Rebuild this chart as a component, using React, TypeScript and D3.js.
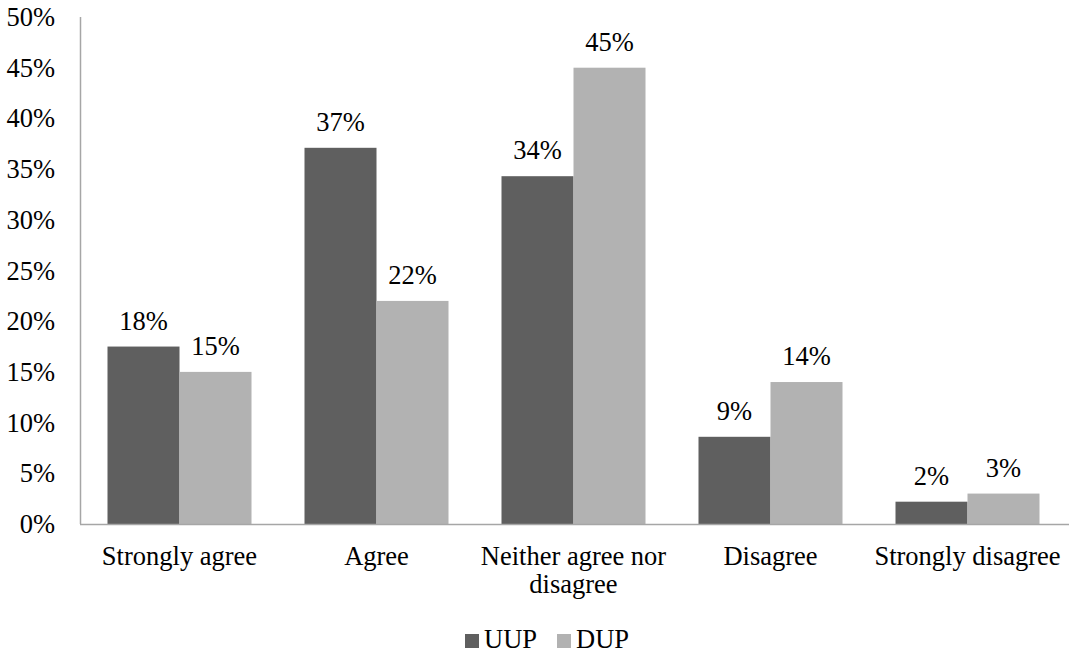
import React from 'react';
import * as d3 from 'd3';

const categories = ['Strongly agree', 'Agree', 'Neither agree nor disagree', 'Disagree', 'Strongly disagree'];
const seriesNames = ['UUP', 'DUP'];
const uupValues = [17.5, 37.1, 34.3, 8.6, 2.2];
const dupValues = [15, 22, 45, 14, 3];
const yTicks = [0, 5, 10, 15, 20, 25, 30, 35, 40, 45, 50];
const colors = ['#5f5f5f', '#b2b2b2'];

const W = 1069;
const H = 655;
const FONT = 'Liberation Serif';
const FS = 26.5;

const left = 81;
const right = 1066;
const top = 17;
const bottom = 524;

// break long labels into lines of at most maxChars characters
const wrapLabel = (s, maxChars) => {
  if (s.length <= maxChars + 1) return [s];
  const lines = [];
  let cur = '';
  s.split(' ').forEach(w => {
    const next = cur ? cur + ' ' + w : w;
    if (next.length > maxChars && cur) {
      lines.push(cur);
      cur = w;
    } else {
      cur = next;
    }
  });
  if (cur) lines.push(cur);
  return lines;
};

const App = () => {
  const y = d3.scaleLinear().domain([0, 50]).range([bottom, top]);
  const x0 = d3.scaleBand()
    .domain(categories)
    .range([left, right])
    .paddingInner(0.269)
    .paddingOuter(0.1345);
  const x1 = d3.scaleBand().domain(seriesNames).range([0, x0.bandwidth()]);
  const series = [uupValues, dupValues];
  const legX = [465, 557];

  return (
    <svg width={W} height={H}
      style={{ position: 'absolute', left: 0, top: 0, background: '#fff' }}>
      {/* bars + value labels */}
      {categories.map((c, i) => (
        <g key={c}>
          {seriesNames.map((s, j) => {
            const v = series[j][i];
            const bx = x0(c) + x1(s);
            return (
              <g key={s}>
                <rect x={bx} y={y(v)} width={x1.bandwidth()} height={y(0) - y(v)} fill={colors[j]} />
                <text x={bx + x1.bandwidth() / 2} y={y(v) - 17} textAnchor="middle"
                  fontFamily={FONT} fontSize={FS} fill="#000">{Math.round(v) + '%'}</text>
              </g>
            );
          })}
        </g>
      ))}

      {/* axis lines */}
      <line x1={left - 0.5} x2={left - 0.5} y1={top} y2={bottom} stroke="#a6a6a6" strokeWidth={1.5} />
      <line x1={left - 1} x2={W} y1={bottom + 0.5} y2={bottom + 0.5} stroke="#a6a6a6" strokeWidth={1.5} />

      {/* y tick labels */}
      {yTicks.map(d => (
        <text key={d} x={55} y={y(d) + 9} textAnchor="end"
          fontFamily={FONT} fontSize={FS} fill="#000">{d + '%'}</text>
      ))}

      {/* category labels */}
      {categories.map(c => {
        const cx = x0(c) + x0.bandwidth() / 2;
        return (
          <text key={c} x={cx} y={565} textAnchor="middle" fontFamily={FONT} fontSize={FS} fill="#000">
            {wrapLabel(c, 17).map((l, k) => (
              <tspan key={k} x={cx} dy={k === 0 ? 0 : 28}>{l}</tspan>
            ))}
          </text>
        );
      })}

      {/* legend */}
      {seriesNames.map((s, j) => (
        <g key={s}>
          <rect x={legX[j]} y={634} width={14} height={14} fill={colors[j]} />
          <text x={legX[j] + 19} y={648} fontFamily={FONT} fontSize={FS} fill="#000">{s}</text>
        </g>
      ))}
    </svg>
  );
};

export default App;
